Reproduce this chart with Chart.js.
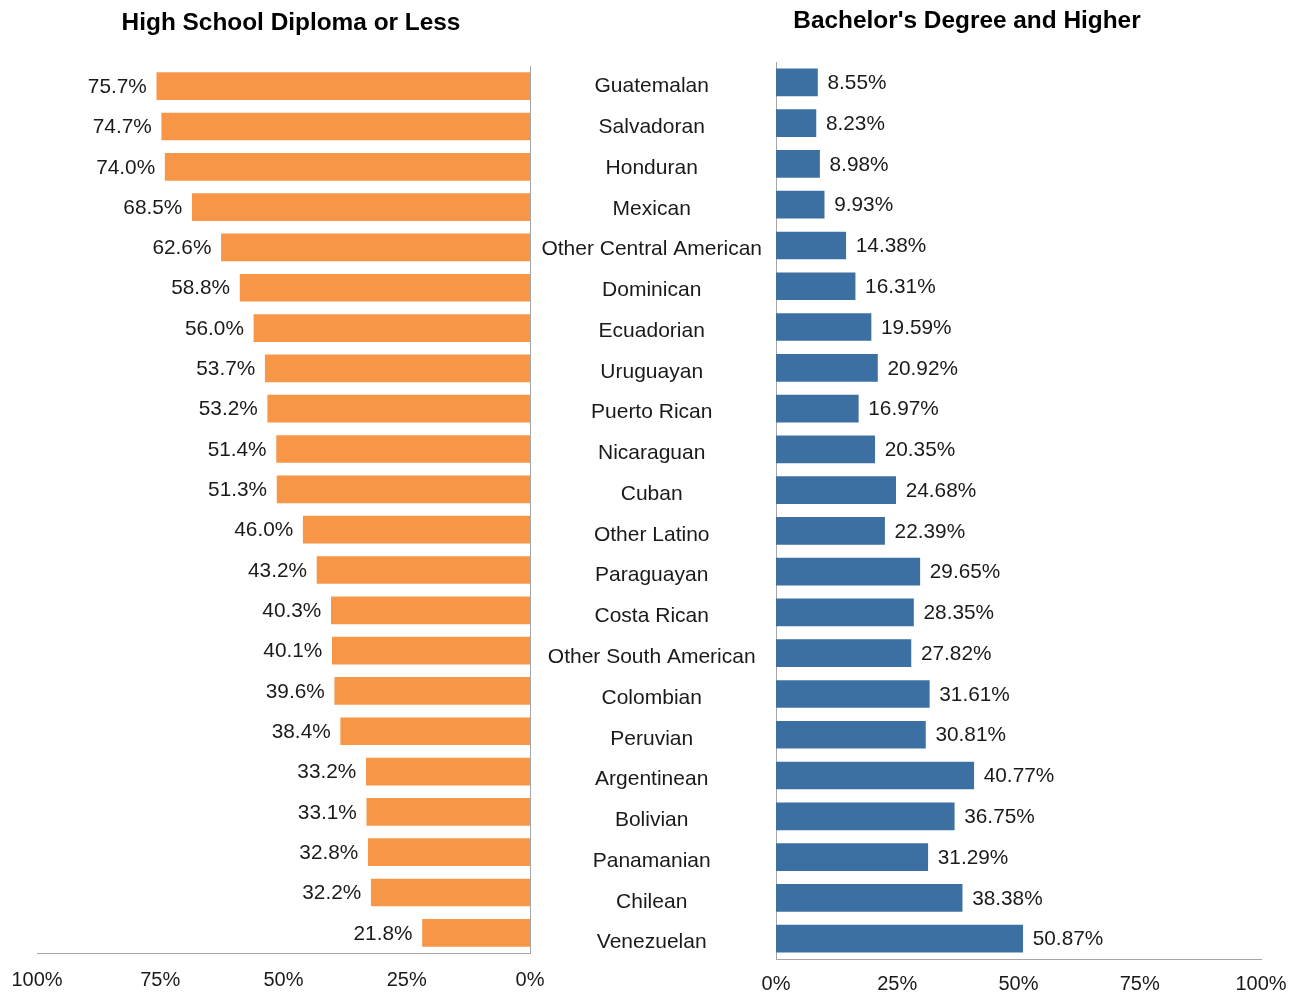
<!DOCTYPE html>
<html>
<head>
<meta charset="utf-8">
<script src="https://cdn.jsdelivr.net/npm/chart.js@4/dist/chart.umd.min.js"></script>
<style>
  html, body { margin: 0; padding: 0; background: #fff; }
  #wrap { position: relative; width: 1301px; height: 996px; overflow: hidden; }
  canvas { position: absolute; left: 0; top: 0; }
  .ttl { position: absolute; font-family: "Liberation Sans", Arial, sans-serif; font-weight: bold;
         font-size: 24.4px; line-height: 30px; color: #000; text-align: center; width: 500px; white-space: nowrap; }
</style>
</head>
<body>
<div id="wrap">
  <canvas id="left" width="1301" height="996"></canvas>
  <canvas id="right" width="1301" height="996"></canvas>
  <div class="ttl" id="t1" style="left:41px; top:7px;">High School Diploma or Less</div>
  <div class="ttl" id="t2" style="left:717px; top:5px;">Bachelor's Degree and Higher</div>
</div>
<script>
const categories = ["Guatemalan","Salvadoran","Honduran","Mexican","Other Central American","Dominican","Ecuadorian","Uruguayan","Puerto Rican","Nicaraguan","Cuban","Other Latino","Paraguayan","Costa Rican","Other South American","Colombian","Peruvian","Argentinean","Bolivian","Panamanian","Chilean","Venezuelan"];
const highSchoolOrLess = [75.7,74.7,74.0,68.5,62.6,58.8,56.0,53.7,53.2,51.4,51.3,46.0,43.2,40.3,40.1,39.6,38.4,33.2,33.1,32.8,32.2,21.8];
const bachelorsOrHigher = [8.55,8.23,8.98,9.93,14.38,16.31,19.59,20.92,16.97,20.35,24.68,22.39,29.65,28.35,27.82,31.61,30.81,40.77,36.75,31.29,38.38,50.87];
const tickValues = [0,25,50,75,100];

const FONT = '"Liberation Sans", Arial, sans-serif';
const TXT = '#1a1a1a';
const AXIS = '#a6a6a6';

function labelPlugin(decimals, side) {
  return {
    id: 'valLabels' + side,
    afterDatasetsDraw(chart) {
      const ctx = chart.ctx;
      const meta = chart.getDatasetMeta(0);
      const data = chart.data.datasets[0].data;
      ctx.save();
      ctx.font = '20.8px ' + FONT;
      ctx.fillStyle = TXT;
      ctx.textBaseline = 'middle';
      meta.data.forEach((bar, i) => {
        const txt = data[i].toFixed(decimals) + '%';
        if (side === 'left') {
          ctx.textAlign = 'right';
          ctx.fillText(txt, bar.x - 10, bar.y + 1);
        } else {
          ctx.textAlign = 'left';
          ctx.fillText(txt, bar.x + 10, bar.y + 1);
        }
      });
      ctx.restore();
    }
  };
}

new Chart(document.getElementById('left'), {
  type: 'bar',
  data: {
    labels: categories,
    datasets: [{ data: highSchoolOrLess, backgroundColor: '#F79646', barThickness: 27 }]
  },
  options: {
    responsive: false,
    animation: false,
    indexAxis: 'y',
    layout: { padding: { left: 37, right: 771, top: 66, bottom: 0 } },
    plugins: { legend: { display: false }, tooltip: { enabled: false } },
    scales: {
      x: {
        min: 0, max: 100, reverse: true,
        afterBuildTicks: (axis) => { axis.ticks = tickValues.map(v => ({ value: v })); },
        afterFit: (axis) => { axis.height = 43; },
        grid: { display: false, drawTicks: false },
        border: { display: true, color: AXIS, width: 1 },
        ticks: { padding: 15, color: TXT, font: { family: FONT, size: 20 }, callback: v => v + '%', maxRotation: 0 }
      },
      y: {
        position: 'right',
        afterFit: (axis) => { axis.width = 0; },
        grid: { display: false, drawTicks: false },
        border: { display: true, color: AXIS, width: 1 },
        ticks: { display: false }
      }
    }
  },
  plugins: [labelPlugin(1, 'left')]
});

new Chart(document.getElementById('right'), {
  type: 'bar',
  data: {
    labels: categories,
    datasets: [{ data: bachelorsOrHigher, backgroundColor: '#3C70A2', barThickness: 27 }]
  },
  options: {
    responsive: false,
    animation: false,
    indexAxis: 'y',
    layout: { padding: { left: 530, right: 40, top: 62, bottom: 0 } },
    plugins: { legend: { display: false }, tooltip: { enabled: false } },
    scales: {
      x: {
        min: 0, max: 100,
        afterBuildTicks: (axis) => { axis.ticks = tickValues.map(v => ({ value: v })); },
        afterFit: (axis) => { axis.height = 37; },
        grid: { display: false, drawTicks: false },
        border: { display: true, color: AXIS, width: 1 },
        ticks: { padding: 13, color: TXT, font: { family: FONT, size: 20 }, callback: v => v + '%', maxRotation: 0 }
      },
      y: {
        position: 'left',
        afterFit: (axis) => { axis.width = 246; },
        grid: { display: false, drawTicks: false },
        border: { display: true, color: AXIS, width: 1 },
        ticks: { padding: 14, crossAlign: 'center', labelOffset: 4, color: TXT, font: { family: FONT, size: 21 }, autoSkip: false }
      }
    }
  },
  plugins: [labelPlugin(2, 'right')]
});
</script>
</body>
</html>
